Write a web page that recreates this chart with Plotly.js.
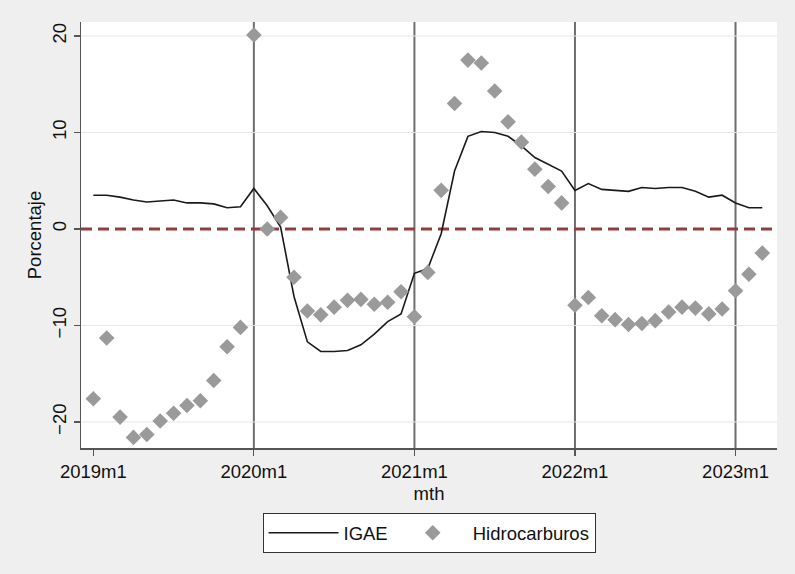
<!DOCTYPE html>
<html>
<head>
<meta charset="utf-8">
<script src="https://cdn.plot.ly/plotly-3.0.1.min.js"></script>
<style>
  html, body { margin: 0; padding: 0; background: #efefef; }
  #chart { width: 795px; height: 574px; }
</style>
</head>
<body>
<div id="chart"></div>
<script>
// Month labels (Stata style)
const months = [
  "2019m1","2019m2","2019m3","2019m4","2019m5","2019m6","2019m7","2019m8","2019m9","2019m10","2019m11","2019m12",
  "2020m1","2020m2","2020m3","2020m4","2020m5","2020m6","2020m7","2020m8","2020m9","2020m10","2020m11","2020m12",
  "2021m1","2021m2","2021m3","2021m4","2021m5","2021m6","2021m7","2021m8","2021m9","2021m10","2021m11","2021m12",
  "2022m1","2022m2","2022m3","2022m4","2022m5","2022m6","2022m7","2022m8","2022m9","2022m10","2022m11","2022m12",
  "2023m1","2023m2","2023m3"
];

// IGAE annual growth (%)
const igae = [
  3.5, 3.5, 3.3, 3.0, 2.8, 2.9, 3.0, 2.7, 2.7, 2.6, 2.2, 2.3,
  4.2, 2.4, 0.2, -7.0, -11.7, -12.7, -12.7, -12.6, -12.0, -10.9, -9.6, -8.8,
  -4.6, -4.1, -0.5, 6.0, 9.6, 10.1, 10.0, 9.6, 8.6, 7.4, 6.7, 6.0,
  4.0, 4.7, 4.1, 4.0, 3.9, 4.3, 4.2, 4.3, 4.3, 3.9, 3.3, 3.5,
  2.7, 2.2, 2.2
];

// Hidrocarburos annual growth (%)
const hidro = [
  -17.6, -11.3, -19.5, -21.6, -21.3, -19.9, -19.1, -18.3, -17.8, -15.7, -12.2, -10.2,
  20.1, 0.0, 1.2, -5.0, -8.5, -8.9, -8.1, -7.4, -7.3, -7.8, -7.6, -6.5,
  -9.1, -4.5, 4.0, 13.0, 17.5, 17.2, 14.3, 11.1, 9.0, 6.2, 4.4, 2.7,
  -7.9, -7.1, -9.0, -9.4, -9.9, -9.8, -9.5, -8.6, -8.1, -8.2, -8.8, -8.3,
  -6.4, -4.7, -2.5
];

const tickMonths = ["2019m1","2020m1","2021m1","2022m1","2023m1"];
const yearLines = ["2020m1","2021m1","2022m1","2023m1"];
const yTicks = [-20, -10, 0, 10, 20];
const gridTicks = [-20, -10, 10, 20];

const FONT = "Liberation Sans, Arial, Helvetica, sans-serif";

const traces = [
  {
    x: months, y: igae, type: "scatter", mode: "lines", name: "IGAE",
    line: { color: "#1a1a1a", width: 1.6 }
  },
  {
    x: months, y: hidro, type: "scatter", mode: "markers", name: "Hidrocarburos",
    marker: { symbol: "diamond", size: 12, color: "#9a9a9a" }
  }
];

const shapes = yearLines.map(m => ({
  type: "line", xref: "x", yref: "paper", x0: m, x1: m, y0: 0, y1: 1,
  line: { color: "#6e6e6e", width: 2 }, layer: "between"
}));
gridTicks.forEach(v => shapes.push({
  type: "line", xref: "paper", yref: "y", x0: 0, x1: 1, y0: v, y1: v,
  line: { color: "#e6e6e6", width: 1 }, layer: "below"
}));
shapes.push({
  type: "line", xref: "paper", yref: "y", x0: 0, x1: 1, y0: 0, y1: 0,
  line: { color: "#953b40", width: 3, dash: "11px,6px" }, layer: "between"
});

const layout = {
  width: 795, height: 574,
  paper_bgcolor: "#efefef", plot_bgcolor: "#ffffff",
  margin: { l: 81, r: 18, t: 22, b: 126 },
  font: { family: FONT, size: 18.5, color: "#111111" },
  showlegend: true,
  xaxis: {
    type: "category",
    categoryorder: "array", categoryarray: months,
    range: [-0.92, 51.1],
    tickmode: "array", tickvals: tickMonths, ticktext: tickMonths,
    ticks: "outside", ticklen: 6, tickwidth: 1.2, tickcolor: "#555555",
    showgrid: false, zeroline: false,
    showline: true, linecolor: "#555555", linewidth: 1.5,
    title: { text: "mth", font: { size: 18.5 }, standoff: 6 },
    tickfont: { size: 18.5 }
  },
  yaxis: {
    range: [-22.7, 21.45],
    tickmode: "array", tickvals: yTicks,
    tickangle: -90,
    ticks: "outside", ticklen: 6, tickwidth: 1.2, tickcolor: "#555555",
    showgrid: false,
    zeroline: false,
    showline: true, linecolor: "#555555", linewidth: 1.5,
    title: { text: "Porcentaje", font: { size: 18.5 }, standoff: 2 },
    tickfont: { size: 18.5 }
  },
  legend: {
    orientation: "h", x: 0.5, xanchor: "center", y: -0.153, yanchor: "top",
    bgcolor: "#ffffff", bordercolor: "#333333", borderwidth: 1,
    font: { size: 18.5 }, itemwidth: 70
  },
  shapes: shapes
};

Plotly.newPlot("chart", traces, layout, { displayModeBar: false, staticPlot: true });
</script>
</body>
</html>
